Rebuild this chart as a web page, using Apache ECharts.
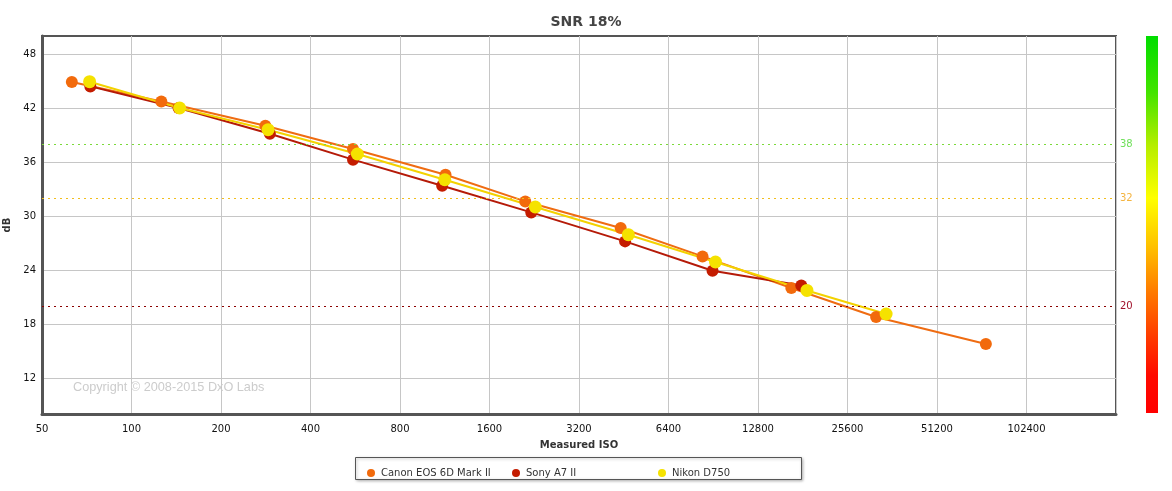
<!DOCTYPE html>
<html><head><meta charset="utf-8">
<script src="https://cdn.jsdelivr.net/npm/echarts@6/dist/echarts.min.js"></script>
<style>html,body{margin:0;padding:0;background:#fff}#c{width:1172px;height:491px}</style>
</head><body><div id="c"></div>
<script>
const title = 'SNR 18%';
const xName = 'Measured ISO';
const yName = 'dB';
const isoTickLabels = ['50','100','200','400','800','1600','3200','6400','12800','25600','51200','102400'];
const yTicks = [12, 18, 24, 30, 36, 42, 48];

const canonName = 'Canon EOS 6D Mark II';
const canonIso = [63, 126, 282, 556, 1138, 2111, 4420, 8330, 16570, 31950, 74750];
const canonSnr = [44.9, 42.73, 40.03, 37.44, 34.59, 31.62, 28.67, 25.51, 22.0, 18.78, 15.78];

const sonyName = 'Sony A7 II';
const sonyIso = [72.7, 144, 292, 556, 1109, 2211, 4573, 9000, 17900];
const sonySnr = [44.4, 42.0, 39.14, 36.26, 33.37, 30.4, 27.18, 23.92, 22.29];

const nikonName = 'Nikon D750';
const nikonIso = [72.3, 145.2, 288, 575, 1132, 2281, 4690, 9208, 18700, 34520];
const nikonSnr = [44.92, 42.0, 39.59, 36.89, 34.03, 31.0, 27.92, 24.89, 21.73, 19.11];

const refValues = [38, 32, 20];
const refColors = ['#7bd93a', '#f2be1a', '#8a0000'];
const refLabelColors = ['#6fe05a', '#f4b440', '#a0102a'];

const copyright = 'Copyright \u00a9 2008-2015 DxO Labs';

const toX = iso => Math.log2(iso / 50);
const pts = (iso, snr) => iso.map((v, i) => [toX(v), snr[i]]);

const font = 'DejaVu Sans, Verdana, sans-serif';
const chart = echarts.init(document.getElementById('c'), null, {renderer: 'canvas'});

function mkSeries(name, iso, snr, lineColor, dotColor, size) {
  return {
    name, type: 'line', data: pts(iso, snr),
    symbol: 'circle', symbolSize: size,
    itemStyle: {color: dotColor},
    lineStyle: {color: lineColor, width: 2},
    silent: true, animation: false
  };
}

const option = {
  animation: false,
  title: {text: title, left: 'center', top: 10,
    textStyle: {fontFamily: font, fontSize: 14, fontWeight: 'bold', color: '#444'}},
  grid: {left: 42, top: 36, width: 1074, height: 378, show: true, containLabel: false,
    outerBoundsMode: 'none',
    borderColor: '#555', borderWidth: 2, backgroundColor: '#fff'},
  xAxis: {
    type: 'value', min: 0, max: 12, interval: 1,
    name: xName, nameLocation: 'middle', nameGap: 26,
    nameTextStyle: {fontFamily: font, fontSize: 10, fontWeight: 'bold', color: '#333'},
    axisLine: {lineStyle: {color: '#555', width: 3}},
    axisTick: {show: false},
    axisLabel: {fontFamily: font, fontSize: 10, color: '#111', margin: 10,
      formatter: v => (v < isoTickLabels.length ? isoTickLabels[v] : '')},
    splitLine: {lineStyle: {color: '#c6c6c6', width: 1}}
  },
  yAxis: {
    type: 'value', min: 8, max: 50,
    name: yName, nameLocation: 'middle', nameGap: 26, nameRotate: 90,
    nameTextStyle: {fontFamily: font, fontSize: 10, fontWeight: 'bold', color: '#333'},
    axisLine: {show: true, lineStyle: {color: '#555', width: 3}},
    axisTick: {show: false, customValues: yTicks},
    axisLabel: {fontFamily: font, fontSize: 10, color: '#111', margin: 6, customValues: yTicks},
    splitLine: {lineStyle: {color: '#c6c6c6', width: 1}}
  },
  legend: [
    {data: [canonName], left: 362, top: 463},
    {data: [sonyName], left: 507, top: 463},
    {data: [nikonName], left: 653, top: 463}
  ].map(l => Object.assign(l, {icon: 'circle', itemWidth: 10, itemHeight: 8, itemGap: 5,
    selectedMode: false, textStyle: {fontFamily: font, fontSize: 10, color: '#333'}})),
  graphic: [
    {type: 'rect', left: 355, top: 457, z: -1, shape: {width: 446, height: 22},
      style: {fill: '#fff', stroke: '#555', lineWidth: 1,
        shadowBlur: 3, shadowColor: 'rgba(0,0,0,0.3)', shadowOffsetX: 1, shadowOffsetY: 1}},
    {type: 'rect', left: 1146, top: 36, shape: {width: 12, height: 377},
      style: {fill: new echarts.graphic.LinearGradient(0, 0, 0, 1, [
        {offset: 0, color: '#00dd00'},
        {offset: 0.15, color: '#44e400'},
        {offset: 0.29, color: '#b5ee00'},
        {offset: 0.43, color: '#ffff00'},
        {offset: 0.56, color: '#ffc000'},
        {offset: 0.68, color: '#ff7a00'},
        {offset: 0.8, color: '#ff3a00'},
        {offset: 0.9, color: '#ff0a00'},
        {offset: 1, color: '#ff0000'}
      ])}},
    {type: 'text', left: 73, top: 381, z: 10,
      style: {text: copyright, fill: '#cccccc', font: '12.7px "Liberation Sans", Arial, sans-serif'}}
  ],
  series: [
    {
      name: 'ref', type: 'line', data: [], silent: true,
      markLine: {
        silent: true, symbol: 'none', animation: false,
        data: refValues.map((v, i) => ({
          yAxis: v,
          lineStyle: {color: refColors[i], type: [2, 4], width: 1},
          label: {show: true, position: 'end', formatter: String(v), distance: 4,
            color: refLabelColors[i], fontFamily: font, fontSize: 10}
        }))
      }
    },
    mkSeries(canonName, canonIso, canonSnr, '#ef6c12', '#f26a0c', 12),
    mkSeries(sonyName, sonyIso, sonySnr, '#b51a08', '#c41c00', 12),
    mkSeries(nikonName, nikonIso, nikonSnr, '#f3d200', '#f5e200', 13)
  ]
};
chart.setOption(option);
</script></body></html>
